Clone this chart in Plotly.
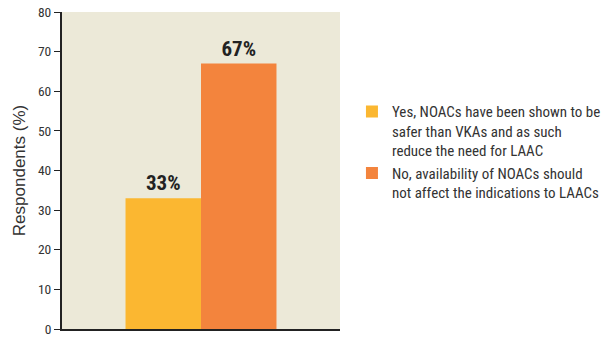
import plotly.graph_objects as go

# Survey responses (percent of respondents)
answers = [
    "Yes, NOACs have been shown to be<br>safer than VKAs and as such<br>reduce the need for LAAC",
    "No, availability of NOACs should<br>not affect the indications to LAACs",
]
percents = [33, 67]
bar_colors = ["#FBB731", "#F3843D"]
y_ticks = [0, 10, 20, 30, 40, 50, 60, 70, 80]

narrow = "Roboto Condensed, Liberation Sans Narrow, Liberation Sans, Arial, sans-serif"

fig = go.Figure()
for name, val, col in zip(answers, percents, bar_colors):
    fig.add_trace(go.Bar(
        x=[""], y=[val], name=name,
        marker=dict(color=col, line=dict(width=0)),
        text=[f"<b>{val}%</b>"], textposition="outside",
        textfont=dict(family=narrow, size=21, color="#222222"),
        cliponaxis=False,
    ))

fig.update_layout(
    width=601, height=340,
    margin=dict(l=62, r=261, t=12, b=11, autoexpand=False),
    paper_bgcolor="white",
    plot_bgcolor="#ECE9D8",
    barmode="group",
    bargap=0.457,
    bargroupgap=0,
    showlegend=True,
    legend=dict(
        x=1.043, y=0.737, xanchor="left", yanchor="top",
        font=dict(family=narrow, size=15, color="#333333"),
        valign="top", itemwidth=30,
        bgcolor="rgba(0,0,0,0)",
    ),
    xaxis=dict(
        showticklabels=False, ticks="", showgrid=False,
        showline=True, linecolor="#222222", linewidth=2,
        zeroline=False,
    ),
    yaxis=dict(
        range=[0, 80], tickvals=y_ticks, ticks="outside", ticklen=6,
        tickcolor="#222222", tickwidth=1,
        showgrid=False, zeroline=False,
        showline=True, linecolor="#222222", linewidth=2,
        tickfont=dict(family=narrow, size=13.5, color="#333333"),
        title=dict(text="Respondents (%)", standoff=8,
                   font=dict(family="Liberation Sans, Arial, sans-serif", size=17, color="#333333")),
    ),
)

fig.write_html("out.html")
